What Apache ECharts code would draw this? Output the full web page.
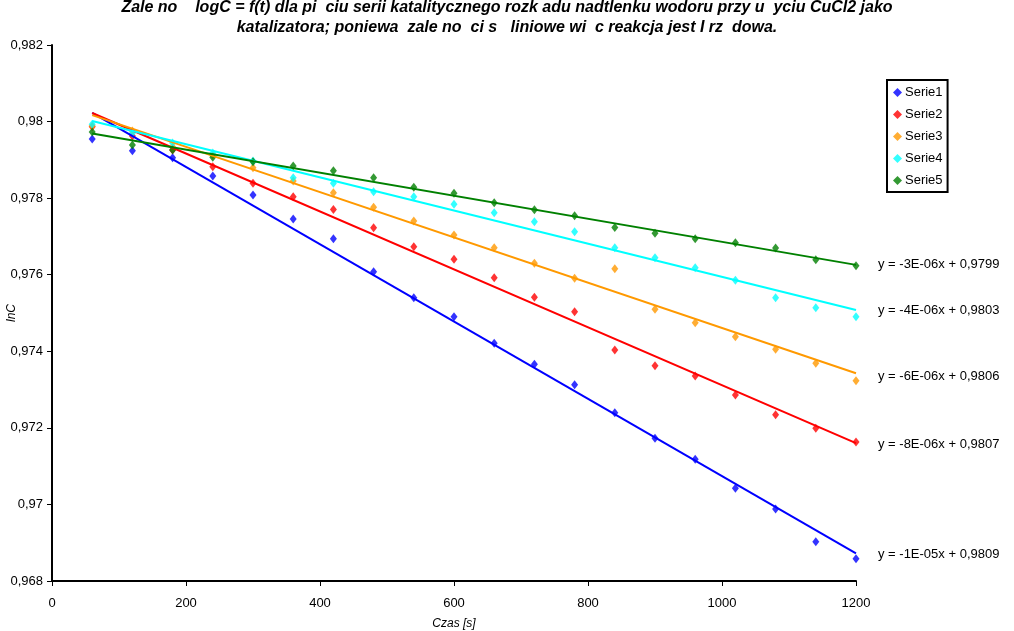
<!DOCTYPE html>
<html>
<head>
<meta charset="utf-8">
<script src="https://cdn.jsdelivr.net/npm/echarts@6/dist/echarts.min.js"></script>
<style>html,body{margin:0;padding:0;background:#fff}#c{width:1014px;height:631px}</style>
</head>
<body>
<div id="c"></div>
<script>
const times = [60,120,180,240,300,360,420,480,540,600,660,720,780,840,900,960,1020,1080,1140,1200];
const serie1 = [0.979545,0.979239,0.979056,0.978578,0.978082,0.977455,0.976941,0.976079,0.975400,0.974903,0.974209,0.973660,0.973127,0.972396,0.971727,0.971179,0.970421,0.969881,0.969027,0.968583];
const serie2 = [0.979866,0.979623,0.979257,0.978821,0.978388,0.978038,0.977703,0.977228,0.976732,0.976403,0.975922,0.975413,0.975034,0.974034,0.973624,0.973354,0.972858,0.972344,0.971989,0.971631];
const serie3 = [0.979884,0.979754,0.979336,0.979127,0.978795,0.978448,0.978142,0.977761,0.977403,0.977037,0.976706,0.976298,0.975906,0.976157,0.975097,0.974747,0.974381,0.974052,0.973686,0.973232];
const serie4 = [0.979929,0.979694,0.979440,0.979179,0.978970,0.978534,0.978388,0.978168,0.978038,0.977839,0.977620,0.977385,0.977124,0.976706,0.976444,0.976183,0.975854,0.975400,0.975138,0.974903];
const serie5 = [0.979728,0.979388,0.979257,0.979067,0.978952,0.978840,0.978717,0.978534,0.978283,0.978127,0.977881,0.977698,0.977541,0.977233,0.977082,0.976941,0.976836,0.976698,0.976392,0.976235];
const seriesNames = ['Serie1','Serie2','Serie3','Serie4','Serie5'];
const equations = ['y = -1E-05x + 0,9809','y = -8E-06x + 0,9807','y = -6E-06x + 0,9806','y = -4E-06x + 0,9803','y = -3E-06x + 0,9799'];
const colors = ['#0000FF','#FF0000','#FF9900','#00FFFF','#008000'];
const titleLines = ['Zale no    logC = f(t) dla pi  ciu serii katalitycznego rozk adu nadtlenku wodoru przy u  yciu CuCl2 jako','katalizatora; poniewa  zale no  ci s   liniowe wi  c reakcja jest I rz  dowa.'];
const labelOffsets = [[0,1],[0,1],[0,3],[0,0],[0,0]];

const allSeries = [serie1, serie2, serie3, serie4, serie5];

function regress(xs, ys) {
  const n = xs.length;
  let sx=0, sy=0, sxx=0, sxy=0;
  for (let i=0;i<n;i++){ sx+=xs[i]; sy+=ys[i]; sxx+=xs[i]*xs[i]; sxy+=xs[i]*ys[i]; }
  const b = (n*sxy - sx*sy)/(n*sxx - sx*sx);
  const a = (sy - b*sx)/n;
  return {a, b};
}

const series = [];
allSeries.forEach((ys, i) => {
  series.push({
    name: seriesNames[i],
    type: 'scatter',
    data: times.map((t, j) => [t, ys[j]]),
    symbol: 'diamond',
    symbolSize: [7, 9],
    itemStyle: { color: colors[i] },
    z: 2
  });
});
allSeries.forEach((ys, i) => {
  const r = regress(times, ys);
  const x0 = times[0], x1 = times[times.length-1];
  series.push({
    name: 'trend' + (i+1),
    type: 'line',
    data: [[x0, r.a + r.b*x0], [x1, r.a + r.b*x1]],
    showSymbol: false,
    symbol: 'none',
    lineStyle: { color: colors[i], width: 2 },
    silent: true,
    z: 3,
    endLabel: {
      show: true,
      formatter: equations[i],
      distance: 22,
      offset: labelOffsets[i],
      color: '#000',
      fontFamily: 'Liberation Sans, Arial, sans-serif',
      fontSize: 13
    }
  });
});

const fmtY = v => parseFloat(v.toFixed(3)).toString().replace('.', ',');
const fmtX = v => String(Math.round(v));

const chart = echarts.init(document.getElementById('c'), null, { renderer: 'canvas' });
chart.setOption({
  animation: false,
  backgroundColor: '#fff',
  title: {
    text: titleLines.join('\n'),
    left: 'center',
    top: -7,
    textStyle: {
      fontFamily: 'Liberation Sans, Arial, sans-serif',
      fontSize: 16,
      fontWeight: 'bold',
      fontStyle: 'italic',
      color: '#000',
      lineHeight: 20
    }
  },
  legend: {
    data: seriesNames,
    orient: 'vertical',
    left: 887,
    top: 80,
    padding: [6, 5, 5, 6],
    itemWidth: 9,
    itemHeight: 9,
    itemGap: 9,
    borderColor: '#000',
    borderWidth: 2,
    borderRadius: 0,
    textStyle: { fontFamily: 'Liberation Sans, Arial, sans-serif', fontSize: 13, color: '#000', padding: [0,0,0,-2] }
  },
  grid: { left: 52, right: 158, top: 45, bottom: 50, containLabel: false, outerBoundsMode: 'none' },
  xAxis: {
    type: 'value',
    min: 0, max: 1200, interval: 200,
    name: 'Czas [s]',
    nameLocation: 'middle',
    nameGap: 37,
    nameMoveOverlap: false,
    nameTextStyle: { fontFamily: 'Liberation Sans, Arial, sans-serif', fontSize: 12, fontStyle: 'italic', color: '#000' },
    axisLine: { lineStyle: { color: '#000', width: 2 } },
    axisTick: { show: true, length: 5, lineStyle: { color: '#000', width: 1 } },
    axisLabel: { color: '#000', fontFamily: 'Liberation Sans, Arial, sans-serif', fontSize: 13, margin: 16, formatter: fmtX },
    splitLine: { show: false }
  },
  yAxis: {
    type: 'value',
    min: 0.968, max: 0.982, interval: 0.002,
    name: 'lnC',
    nameLocation: 'middle',
    nameGap: 34,
    nameRotate: 90,
    nameMoveOverlap: false,
    nameTextStyle: { fontFamily: 'Liberation Sans, Arial, sans-serif', fontSize: 12, fontStyle: 'italic', color: '#000' },
    axisLine: { show: true, lineStyle: { color: '#000', width: 2 } },
    axisTick: { show: true, length: 5, lineStyle: { color: '#000', width: 1 } },
    axisLabel: { color: '#000', fontFamily: 'Liberation Sans, Arial, sans-serif', fontSize: 13, margin: 9, formatter: fmtY },
    splitLine: { show: false }
  },
  series: series
});
</script>
</body>
</html>
